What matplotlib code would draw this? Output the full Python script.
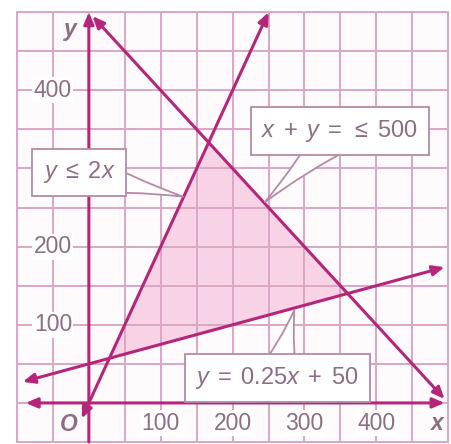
import matplotlib.pyplot as plt
import numpy as np

plt.rcParams["mathtext.fontset"] = "custom"
plt.rcParams["mathtext.rm"] = "Liberation Sans"
plt.rcParams["mathtext.it"] = "Liberation Sans:italic"

# constraint lines written as a*x + b*y = c
line_a = [-2.0, 1.0, -0.25]
line_b = [1.0, 1.0, 1.0]
line_c = [0.0, 500.0, 50.0]
# x range each drawn line covers (arrow tip to arrow tip)
line_x0 = [-10.0, 5.0, -92.0]
line_x1 = [250.0, 495.0, 495.0]

x_ticks = [100, 200, 300, 400]
y_ticks = [100, 200, 400]

callout_text = ["$y\\;\\leq\\;2x$", "$x\\;+\\;y\\;=\\;\\leq\\;500$", "$y\\;=\\;0.25x\\;+\\;50$"]
callout_xy = [(-14, 295), (349, 348), (262, 32)]
callout_tip = [(131, 264), (245, 257), (286, 119)]

line_col = "#b5267a"
grid_col = "#dca6c6"
text_col = "#8c6d85"
box_col = "#b48aa6"

fig = plt.figure(figsize=(4.52, 4.44), dpi=100)
ax = fig.add_axes([0.0376, 0.0045, 0.954, 0.968])
ax.set_xlim(-100, 500)
ax.set_ylim(-50, 500)
ax.set_facecolor("#fffbfd")
ax.set_xticks(np.arange(-100, 501, 50))
ax.set_yticks(np.arange(-50, 501, 50))
ax.tick_params(length=0, labelbottom=False, labelleft=False)
ax.set_axisbelow(True)
ax.grid(True, color=grid_col, lw=1.4)
for s in ax.spines.values():
    s.set_color(grid_col)
    s.set_linewidth(1.4)

# feasible region: corners are the pairwise intersections of the three lines
verts = []
for i, j in [(0, 2), (0, 1), (1, 2)]:
    A = np.array([[line_a[i], line_b[i]], [line_a[j], line_b[j]]])
    verts.append(np.linalg.solve(A, [line_c[i], line_c[j]]))
verts = np.array(verts)
ax.fill(verts[:, 0], verts[:, 1], color="#f7d3e5", zorder=0.3, lw=0)

arrow = dict(arrowstyle="<|-|>,head_length=0.7,head_width=0.3", color=line_col,
             lw=2.2, shrinkA=0, shrinkB=0)

# axes
ax.annotate("", xy=(495, 0), xytext=(-88, 0), arrowprops=arrow)
ax.annotate("", xy=(0, 500), xytext=(0, -50),
            arrowprops=dict(arrow, arrowstyle="-|>,head_length=0.7,head_width=0.3"))

for a, b, c, x0, x1 in zip(line_a, line_b, line_c, line_x0, line_x1):
    y0 = (c - a * x0) / b
    y1 = (c - a * x1) / b
    ax.annotate("", xy=(x1, y1), xytext=(x0, y0), arrowprops=arrow)

fs = 16.5
lab = dict(color=text_col, fontsize=fs, ha="center", va="center",
           family="Liberation Sans",
           bbox=dict(fc="white", ec="none", pad=1.0))
for v in x_ticks:
    ax.text(v, -26, str(v), **lab)
for v in y_ticks:
    ax.text(-50, v, str(v), **lab)

for t, xy in [("O", (-28, -28)), ("x", (485, -26)), ("y", (-26, 478))]:
    ax.text(xy[0], xy[1], t, color=text_col, fontsize=fs, fontweight="bold",
            style="italic", ha="center", va="center", family="Liberation Sans")

for t, xy, tip in zip(callout_text, callout_xy, callout_tip):
    ax.annotate(t, xy=tip, xytext=xy, color=text_col, fontsize=17,
                ha="center", va="center",
                bbox=dict(boxstyle="square,pad=0.45", fc="white", ec=box_col, lw=1.3),
                arrowprops=dict(arrowstyle="wedge,tail_width=1.8,shrink_factor=0.4",
                                fc="white", ec=box_col, lw=1.3,
                                patchA=None, shrinkA=0, shrinkB=0))

fig.savefig("out.png", dpi=100)
